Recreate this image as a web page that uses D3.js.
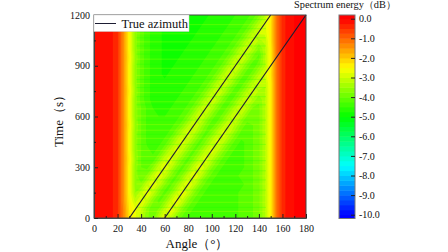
<!DOCTYPE html>
<html>
<head>
<meta charset="utf-8">
<script src="https://cdn.jsdelivr.net/npm/d3@7"></script>
<style>
body { margin:0; background:#fff; }
text { font-family:"Liberation Serif",serif; fill:#111; }
</style>
</head>
<body>
<script>
var angleTicks = [0,20,40,60,80,100,120,140,160,180];
var angleMinor = [10,30,50,70,90,110,130,150,170];
var timeTicks = [0,300,600,900,1200];
var timeMinor = [150,450,750,1050];
var energyTicks = [0,-1,-2,-3,-4,-5,-6,-7,-8,-9,-10];
var azimuthA = [[30,0],[150,1200]];
var azimuthB = [[60,0],[180,1200]];
var colorStops = [0,-2.5,-5,-7.5,-10];
var colorNames = ["#ff0000","#ffff00","#00ff00","#00ffff","#0000ff"];

// one row per 50 s, one column per 5 deg
var gridAngleStep = 5;
var gridTimeStep = 50;
var energy = [
[0,-.05,-.1,-.2,-.45,-1.3,-2.2,-2.7,-3.2,-3.7,-3.9,-3.2,-2.6,-3.1,-3.7,-4.1,-4.3,-4.4,-4.3,-4.4,-4.3,-4.3,-4.4,-4.3,-4.3,-4.2,-4.2,-4,-3.8,-3.3,-2.4,-1.1,-.4,-.1,0,0,0],
[0,-.05,-.1,-.2,-.45,-1.3,-2.3,-2.7,-3,-3.6,-4,-3.7,-3.1,-2.6,-3.1,-3.7,-4.1,-4.3,-4.4,-4.4,-4.3,-4.4,-4.3,-4.3,-4.3,-4.2,-4.2,-4,-3.8,-3.3,-2.4,-1.1,-.4,-.1,0,0,0],
[0,-.05,-.1,-.2,-.45,-1.4,-2.4,-3.1,-2.7,-3.1,-3.7,-4.1,-3.7,-3.1,-2.6,-3.1,-3.7,-4.1,-4.3,-4.3,-4.4,-4.4,-4.3,-4.4,-4.3,-4.2,-4.2,-4,-3.8,-3.3,-2.4,-1.1,-.4,-.1,0,0,0],
[0,-.05,-.1,-.2,-.45,-1.4,-2.5,-3.5,-3.1,-2.6,-3.1,-3.7,-4.1,-3.7,-3.1,-2.6,-3.1,-3.7,-4.1,-4.3,-4.3,-4.4,-4.4,-4.3,-4.3,-4.2,-4.2,-4,-3.8,-3.3,-2.4,-1.1,-.4,-.1,0,0,0],
[0,-.05,-.1,-.2,-.45,-1.4,-2.5,-3.6,-3.7,-3.1,-2.7,-3.1,-3.7,-4.1,-3.7,-3.1,-2.7,-3.1,-3.7,-4.1,-4.3,-4.3,-4.4,-4.4,-4.3,-4.3,-4.2,-4,-3.8,-3.3,-2.4,-1.1,-.4,-.1,0,0,0],
[0,-.05,-.1,-.2,-.45,-1.4,-2.5,-3.6,-4,-3.7,-3.1,-2.7,-3.1,-3.7,-4.1,-3.7,-3.1,-2.7,-3.1,-3.7,-4.1,-4.3,-4.3,-4.4,-4.3,-4.2,-4.2,-4,-3.8,-3.3,-2.4,-1.1,-.4,-.1,0,0,0],
[0,-.05,-.1,-.2,-.45,-1.4,-2.5,-3.6,-4,-4.1,-3.7,-3.1,-2.7,-3.1,-3.7,-4.1,-3.7,-3.1,-2.7,-3.1,-3.7,-4.1,-4.3,-4.4,-4.4,-4.3,-4.2,-4,-3.8,-3.3,-2.4,-1.1,-.4,-.1,0,0,0],
[0,-.05,-.1,-.2,-.45,-1.4,-2.4,-3.5,-4,-4.2,-4.2,-3.7,-3.1,-2.8,-3.2,-3.7,-4.1,-3.7,-3.2,-2.8,-3.2,-3.7,-4.1,-4.3,-4.4,-4.3,-4.2,-4,-3.8,-3.3,-2.4,-1.1,-.4,-.1,0,0,0],
[0,-.05,-.1,-.2,-.45,-1.4,-2.5,-3.6,-4,-4.2,-4.3,-4.2,-3.7,-3.2,-2.8,-3.2,-3.7,-4.1,-3.7,-3.2,-2.8,-3.2,-3.7,-4.1,-4.3,-4.3,-4.2,-4,-3.8,-3.3,-2.4,-1.1,-.4,-.1,0,0,0],
[0,-.05,-.1,-.2,-.45,-1.4,-2.5,-3.6,-4,-4.3,-4.4,-4.3,-4.2,-3.7,-3.2,-2.8,-3.2,-3.7,-4.1,-3.7,-3.2,-2.8,-3.2,-3.7,-4.1,-4.3,-4.2,-4,-3.8,-3.3,-2.4,-1.1,-.4,-.1,0,0,0],
[0,-.05,-.1,-.2,-.45,-1.4,-2.5,-3.6,-4,-4.3,-4.4,-4.4,-4.3,-4.2,-3.7,-3.2,-2.8,-3.2,-3.7,-4.1,-3.7,-3.2,-2.8,-3.2,-3.7,-4.1,-4.2,-4,-3.8,-3.3,-2.4,-1.1,-.4,-.1,0,0,0],
[0,-.05,-.1,-.2,-.45,-1.4,-2.4,-3.5,-4,-4.3,-4.4,-4.5,-4.4,-4.3,-4.2,-3.8,-3.3,-2.9,-3.3,-3.8,-4.2,-3.8,-3.3,-2.9,-3.3,-3.8,-4.1,-4,-3.8,-3.3,-2.4,-1.1,-.4,-.1,0,0,0],
[0,-.05,-.1,-.2,-.45,-1.4,-2.5,-3.6,-4,-4.3,-4.5,-4.5,-4.5,-4.4,-4.3,-4.2,-3.8,-3.3,-2.9,-3.3,-3.8,-4.2,-3.8,-3.3,-2.9,-3.3,-3.8,-4,-3.8,-3.3,-2.4,-1.1,-.4,-.1,0,0,0],
[0,-.05,-.1,-.2,-.45,-1.4,-2.5,-3.6,-4,-4.3,-4.5,-4.6,-4.6,-4.5,-4.4,-4.3,-4.2,-3.8,-3.3,-2.9,-3.3,-3.8,-4.2,-3.8,-3.3,-2.9,-3.3,-3.8,-3.8,-3.3,-2.4,-1.1,-.4,-.1,0,0,0],
[0,-.05,-.1,-.2,-.45,-1.4,-2.5,-3.6,-4.1,-4.4,-4.6,-4.6,-4.6,-4.6,-4.5,-4.4,-4.3,-4.2,-3.8,-3.3,-2.9,-3.3,-3.8,-4.2,-3.8,-3.3,-2.9,-3.3,-3.7,-3.3,-2.4,-1.1,-.4,-.1,0,0,0],
[0,-.05,-.1,-.2,-.45,-1.4,-2.4,-3.5,-4.1,-4.4,-4.6,-4.7,-4.7,-4.6,-4.6,-4.5,-4.4,-4.3,-4.2,-3.8,-3.3,-2.9,-3.3,-3.8,-4.2,-3.8,-3.3,-2.9,-3.3,-3.3,-2.4,-1.1,-.4,-.1,0,0,0],
[0,-.05,-.1,-.2,-.45,-1.4,-2.5,-3.6,-4.1,-4.4,-4.6,-4.7,-4.7,-4.7,-4.6,-4.6,-4.5,-4.4,-4.3,-4.2,-3.8,-3.3,-2.9,-3.3,-3.8,-4.2,-3.8,-3.3,-2.9,-3.2,-2.4,-1.1,-.4,-.1,0,0,0],
[0,-.05,-.1,-.2,-.45,-1.4,-2.5,-3.6,-4.1,-4.4,-4.6,-4.7,-4.8,-4.7,-4.7,-4.6,-4.6,-4.5,-4.4,-4.3,-4.2,-3.8,-3.3,-2.9,-3.3,-3.8,-4.2,-3.8,-3.3,-2.9,-2.3,-1.1,-.4,-.1,0,0,0],
[0,-.05,-.1,-.2,-.45,-1.4,-2.5,-3.6,-4.1,-4.4,-4.6,-4.7,-4.8,-4.8,-4.7,-4.7,-4.6,-4.6,-4.5,-4.4,-4.3,-4.2,-3.8,-3.3,-2.9,-3.3,-3.8,-4.2,-3.8,-3.3,-2.4,-1.1,-.4,-.1,0,0,0],
[0,-.05,-.1,-.2,-.45,-1.4,-2.4,-3.5,-4.1,-4.4,-4.6,-4.7,-4.8,-4.8,-4.8,-4.7,-4.7,-4.6,-4.6,-4.5,-4.4,-4.3,-4.2,-3.8,-3.3,-2.9,-3.3,-3.8,-4.1,-3.3,-2.4,-1.1,-.4,-.1,0,0,0],
[0,-.05,-.1,-.2,-.45,-1.4,-2.5,-3.6,-4.1,-4.4,-4.6,-4.7,-4.8,-4.8,-4.8,-4.8,-4.7,-4.7,-4.6,-4.6,-4.5,-4.4,-4.3,-4.2,-3.8,-3.3,-2.9,-3.3,-3.8,-3.3,-2.4,-1.1,-.4,-.1,0,0,0],
[0,-.05,-.1,-.2,-.45,-1.4,-2.5,-3.6,-4.1,-4.4,-4.6,-4.7,-4.8,-4.8,-4.8,-4.8,-4.8,-4.7,-4.7,-4.6,-4.6,-4.5,-4.4,-4.3,-4.2,-3.8,-3.3,-2.9,-3.3,-3.2,-2.3,-1.1,-.4,-.1,0,0,0],
[0,-.05,-.1,-.2,-.45,-1.4,-2.5,-3.6,-4.1,-4.4,-4.6,-4.7,-4.8,-4.8,-4.8,-4.8,-4.8,-4.8,-4.7,-4.7,-4.6,-4.6,-4.5,-4.4,-4.3,-4.2,-3.8,-3.3,-2.9,-2.9,-2.3,-1.1,-.4,-.1,0,0,0],
[0,-.05,-.1,-.2,-.45,-1.4,-2.4,-3.5,-4.1,-4.4,-4.6,-4.7,-4.8,-4.8,-4.8,-4.8,-4.8,-4.8,-4.8,-4.7,-4.7,-4.6,-4.6,-4.5,-4.4,-4.3,-4.2,-3.8,-3.3,-2.9,-2.3,-1.1,-.4,-.1,0,0,0],
[0,-.05,-.1,-.2,-.45,-1.4,-2.5,-3.6,-4.1,-4.4,-4.6,-4.7,-4.8,-4.8,-4.8,-4.8,-4.8,-4.8,-4.8,-4.8,-4.7,-4.7,-4.6,-4.6,-4.5,-4.4,-4.3,-4.2,-3.8,-3.3,-2.4,-1.1,-.4,-.1,0,0,0]
];

// thin horizontal streaks seen across the green area: time (s)
var lightStreaks = [42,96,138,204,252,318,366,402,474,522,555,606,648,690,744,798,846,888,942,996,1044,1092,1146];
var darkStreaks = [66,168,228,282,342,438,498,582,672,720,774,822,912,972,1020,1068,1122,1176];

var width = 448;
var height = 252;
var plot = {left:94, right:306, top:15, bottom:218};
var bar = {left:339, right:355, top:15, bottom:218.5};

var x = d3.scaleLinear().domain([0,180]).range([plot.left,plot.right]);
var y = d3.scaleLinear().domain([0,1200]).range([plot.bottom,plot.top]);
var color = d3.scaleLinear().domain(colorStops).range(colorNames);
var barY = d3.scaleLinear().domain([0,-10]).range([18.7,214.7]);

var svg = d3.select("body").append("svg")
    .attr("width",width)
    .attr("height",height);

svg.append("clipPath").attr("id","plotClip")
    .append("rect")
    .attr("x",plot.left).attr("y",plot.top)
    .attr("width",plot.right-plot.left).attr("height",plot.bottom-plot.top);

// filled bands, same steps as the colorbar
var levels = d3.range(-10.25,0.01,0.25);
var cols = energy[0].length;
var rows = energy.length;
var contours = d3.contours()
    .size([cols,rows])
    .thresholds(levels)(d3.merge(energy));

var toPlot = d3.geoTransform({
    point:function(cx,cy){
        this.stream.point(x((cx-0.5)*gridAngleStep),y((cy-0.5)*gridTimeStep));
    }
});
var path = d3.geoPath(toPlot);

svg.append("g")
    .attr("clip-path","url(#plotClip)")
    .selectAll("path")
    .data(contours)
    .enter()
    .append("path")
    .attr("d",path)
    .attr("fill",function(d){ return color(d.value+0.125); });

var drawStreaks = function(times,fill,opacity)
{
    svg.append("g")
        .selectAll("rect")
        .data(times)
        .enter()
        .append("rect")
        .attr("x",x(36))
        .attr("width",x(146)-x(36))
        .attr("y",function(d){ return y(d); })
        .attr("height",1)
        .attr("fill",fill)
        .attr("opacity",opacity);
}
drawStreaks(lightStreaks,"#ffff00",0.22);
drawStreaks(darkStreaks,"#00ff00",0.22);

// true azimuth lines
var line = d3.line()
    .x(function(d){ return x(d[0]); })
    .y(function(d){ return y(d[1]); });
svg.selectAll(".azimuth")
    .data([azimuthA,azimuthB])
    .enter()
    .append("path")
    .attr("class","azimuth")
    .attr("d",line)
    .attr("fill","none")
    .attr("stroke","#1d1d33")
    .attr("stroke-width",1.2);

// frame
svg.append("rect")
    .attr("x",plot.left).attr("y",plot.top)
    .attr("width",plot.right-plot.left).attr("height",plot.bottom-plot.top)
    .attr("fill","none")
    .attr("stroke","#444")
    .attr("stroke-width",1);

// axes with inward ticks
var xAxis = svg.append("g")
    .attr("transform","translate(0,"+plot.bottom+")")
    .call(d3.axisBottom(x).tickValues(angleTicks).tickSize(-4).tickPadding(7).tickSizeOuter(0));
var xMinor = svg.append("g")
    .attr("transform","translate(0,"+plot.bottom+")")
    .call(d3.axisBottom(x).tickValues(angleMinor).tickSize(-2).tickFormat("").tickSizeOuter(0));
var yAxis = svg.append("g")
    .attr("transform","translate("+plot.left+",0)")
    .call(d3.axisLeft(y).tickValues(timeTicks).tickSize(-4).tickPadding(4).tickSizeOuter(0).tickFormat(d3.format("d")));
var yMinor = svg.append("g")
    .attr("transform","translate("+plot.left+",0)")
    .call(d3.axisLeft(y).tickValues(timeMinor).tickSize(-2).tickFormat("").tickSizeOuter(0));
[xAxis,xMinor,yAxis,yMinor].forEach(function(g){
    g.select(".domain").attr("stroke","#444");
    g.selectAll("line").attr("stroke","#222");
    g.selectAll("text").attr("font-size",10).attr("font-family","Liberation Serif").attr("fill","#111");
});

svg.append("text")
    .attr("x",197).attr("y",248)
    .attr("text-anchor","middle")
    .attr("font-size",13)
    .text("Angle（°）");
svg.append("text")
    .attr("transform","translate(63,118) rotate(-90)")
    .attr("text-anchor","middle")
    .attr("font-size",13)
    .text("Time（s）");

// legend
svg.append("rect")
    .attr("x",plot.left).attr("y",plot.top)
    .attr("width",95).attr("height",16.5)
    .attr("fill","#fff")
    .attr("stroke","#ccc")
    .attr("stroke-width",0.5);
svg.append("line")
    .attr("x1",95).attr("x2",116)
    .attr("y1",23.5).attr("y2",23.5)
    .attr("stroke","#1d1d33")
    .attr("stroke-width",1);
svg.append("text")
    .attr("x",121.5).attr("y",27.5)
    .attr("font-size",12.5)
    .text("True azimuth");

// colorbar
svg.append("clipPath").attr("id","barClip")
    .append("rect")
    .attr("x",bar.left).attr("y",bar.top)
    .attr("width",bar.right-bar.left).attr("height",bar.bottom-bar.top);
svg.append("g")
    .attr("clip-path","url(#barClip)")
    .selectAll("rect")
    .data(levels)
    .enter()
    .append("rect")
    .attr("x",bar.left)
    .attr("width",bar.right-bar.left)
    .attr("y",function(d){ return barY(d+0.25); })
    .attr("height",function(d){ return barY(d)-barY(d+0.25)+0.5; })
    .attr("fill",function(d){ return color(d+0.125); });
svg.append("rect")
    .attr("x",bar.left).attr("y",bar.top)
    .attr("width",bar.right-bar.left).attr("height",bar.bottom-bar.top)
    .attr("fill","none")
    .attr("stroke","#777")
    .attr("stroke-width",1);

var barAxis = svg.append("g")
    .attr("transform","translate("+bar.right+",0)")
    .call(d3.axisRight(barY).tickValues(energyTicks).tickSize(-4).tickPadding(4).tickSizeOuter(0)
        .tickFormat(function(d){ return d.toFixed(1); }));
barAxis.select(".domain").remove();
barAxis.selectAll("line").attr("stroke","#222");
barAxis.selectAll("text")
    .attr("font-size",10)
    .attr("font-family","Liberation Serif")
    .attr("fill","#111");

svg.append("text")
    .attr("x",294).attr("y",8)
    .attr("font-size",10.3)
    .text("Spectrum energy（dB）");
</script>
</body>
</html>
